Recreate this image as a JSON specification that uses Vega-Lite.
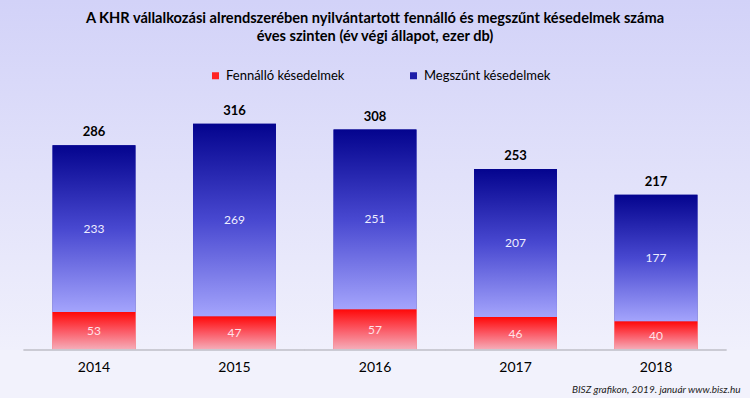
{
  "$schema": "https://vega.github.io/schema/vega-lite/v6.json",
  "width": 750,
  "height": 350,
  "autosize": {"type": "none"},
  "padding": {"left": 0, "right": 0, "top": 0, "bottom": 48},
  "background": "#f2f2fc",
  "title": {
    "text": ["A KHR vállalkozási alrendszerében nyilvántartott fennálló és megszűnt késedelmek száma", "éves szinten (év végi állapot, ezer db)"],
    "fontSize": 14.6,
    "fontWeight": "bold",
    "lineHeight": 18.5,
    "anchor": "middle",
    "frame": "group",
    "offset": -44,
    "color": "#000000"
  },
  "data": {
    "values": [
      {"year": "2014", "series": "Fennálló késedelmek", "value": 53},
      {"year": "2014", "series": "Megszűnt késedelmek", "value": 233},
      {"year": "2015", "series": "Fennálló késedelmek", "value": 47},
      {"year": "2015", "series": "Megszűnt késedelmek", "value": 269},
      {"year": "2016", "series": "Fennálló késedelmek", "value": 57},
      {"year": "2016", "series": "Megszűnt késedelmek", "value": 251},
      {"year": "2017", "series": "Fennálló késedelmek", "value": 46},
      {"year": "2017", "series": "Megszűnt késedelmek", "value": 207},
      {"year": "2018", "series": "Fennálló késedelmek", "value": 40},
      {"year": "2018", "series": "Megszűnt késedelmek", "value": 177}
    ]
  },
  "encoding": {
    "x": {
      "field": "year",
      "type": "nominal",
      "scale": {"paddingInner": 0.41, "paddingOuter": 0.374},
      "axis": {
        "labelAngle": 0,
        "labelFontSize": 14,
        "labelColor": "#000000",
        "labelPadding": 10,
        "domain": false,
        "ticks": false,
        "tickSize": 0,
        "grid": false,
        "title": "BISZ grafikon, 2019. január www.bisz.hu",
        "titleFontSize": 10,
        "titleFontStyle": "italic",
        "titleFontWeight": "normal",
        "titleColor": "#222222",
        "titleX": 740,
        "titleY": 42,
        "titleAlign": "right",
        "titleBaseline": "alphabetic"
      }
    }
  },
  "layer": [
    {
      "mark": {"type": "bar"},
      "encoding": {
        "y": {"field": "value", "type": "quantitative", "stack": "zero", "scale": {"domain": [0, 489]}, "axis": null},
        "order": {"field": "series", "sort": "ascending"},
        "color": {
          "field": "series",
          "type": "nominal",
          "scale": {"domain": ["Fennálló késedelmek", "Megszűnt késedelmek"], "range": ["#ff2424", "#1c1ca8"]},
          "legend": {
            "orient": "none",
            "legendX": 209,
            "legendY": 69,
            "direction": "horizontal",
            "title": null,
            "symbolType": "square",
            "symbolSize": 49,
            "symbolStrokeWidth": 0,
            "labelFontSize": 13,
            "labelColor": "#000000",
            "labelOffset": 4,
            "columnPadding": 62,
            "padding": 0
          }
        }
      }
    },
    {
      "mark": {"type": "bar"},
      "encoding": {
        "y": {"field": "value", "type": "quantitative", "stack": "zero", "scale": {"domain": [0, 489]}, "axis": null},
        "order": {"field": "series", "sort": "ascending"},
        "detail": {"field": "series"},
        "fill": {
          "condition": {
            "test": "datum.series === 'Fennálló késedelmek'",
            "value": {"gradient": "linear", "x1": 0, "y1": 0, "x2": 0, "y2": 1, "stops": [{"offset": 0, "color": "#ff0808"}, {"offset": 0.5, "color": "#fb5a66"}, {"offset": 1, "color": "#f5b0bc"}]}
          },
          "value": {"gradient": "linear", "x1": 0, "y1": 0, "x2": 0, "y2": 1, "stops": [{"offset": 0, "color": "#04048e"}, {"offset": 0.5, "color": "#4848d0"}, {"offset": 1, "color": "#a4a4fc"}]}
        }
      }
    },
    {
      "transform": [
        {"stack": "value", "groupby": ["year"], "sort": [{"field": "series", "order": "ascending"}], "as": ["v0", "v1"]},
        {"fold": ["v0", "v1"], "as": ["end", "pos"]}
      ],
      "mark": {"type": "text", "fontSize": 12, "baseline": "middle"},
      "encoding": {
        "y": {"aggregate": "mean", "field": "pos", "type": "quantitative", "scale": {"domain": [0, 489]}, "axis": null},
        "detail": {"field": "series"},
        "text": {"aggregate": "max", "field": "value", "type": "quantitative"},
        "color": {"condition": {"test": "datum.series === 'Fennálló késedelmek'", "value": "#ffe2e8"}, "value": "#eeeeff"}
      }
    },
    {
      "mark": {"type": "text", "fontSize": 13, "fontWeight": "bold", "baseline": "bottom", "dy": -6, "color": "#000000"},
      "encoding": {
        "y": {"aggregate": "sum", "field": "value", "type": "quantitative", "scale": {"domain": [0, 489]}, "axis": null},
        "text": {"aggregate": "sum", "field": "value", "type": "quantitative"}
      }
    },
    {
      "mark": {"type": "tick", "color": "#c8c8d0", "thickness": 2, "size": 141, "orient": "horizontal"},
      "encoding": {
        "y": {"datum": 0, "type": "quantitative", "scale": {"domain": [0, 489]}, "axis": null}
      }
    }
  ],
  "config": {
    "font": "Lato",
    "view": {
      "stroke": null,
      "fill": {"gradient": "linear", "x1": 0, "y1": 0, "x2": 0, "y2": 1, "stops": [{"offset": 0, "color": "#d2d2f8"}, {"offset": 1, "color": "#f0f0fc"}]}
    }
  }
}
